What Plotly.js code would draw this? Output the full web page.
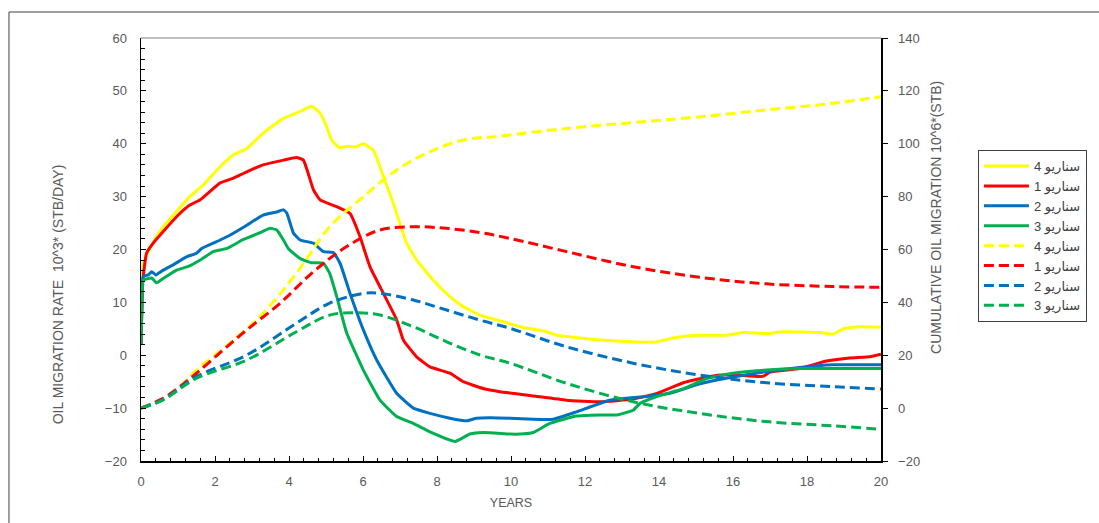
<!DOCTYPE html>
<html>
<head>
<meta charset="utf-8">
<script src="https://cdn.plot.ly/plotly-3.0.1.min.js"></script>
<style>html,body{margin:0;padding:0;background:#fff;}#chart{width:1099px;height:523px;}</style>
</head>
<body>
<div id="chart"></div>
<script>
// Legend labels
const labels = ["4 سناريو", "1 سناريو", "2 سناريو", "3 سناريو"];

// Oil migration rate (10^3 STB/DAY), left axis
const rate4X = [0, 0.02, 0.06, 0.3, 0.6, 1.0, 1.32, 1.68, 2.05, 2.5, 2.86, 3.3, 3.85, 4.3, 4.61, 4.84, 5.02, 5.15, 5.36, 5.6, 5.8, 6.01, 6.28, 6.55, 6.82, 7.18, 7.45, 7.9, 8.35, 8.71, 9.16, 9.7, 10.24, 10.96, 11.23, 12.4, 13.85, 14.48, 15.1, 15.83, 16.28, 16.9, 17.36, 18.35, 18.7, 18.98, 19.43, 20];
const rate4Y = [2, 12, 17.4, 21, 24.3, 27.5, 30, 32.2, 35.0, 37.9, 39.1, 42, 44.8, 46.1, 47.1, 45.8, 43.2, 40.7, 39.3, 39.5, 39.4, 40, 38.8, 33.8, 28.7, 21.2, 18, 14.2, 11.1, 9.2, 7.6, 6.5, 5.4, 4.45, 3.8, 2.9, 2.45, 3.4, 3.8, 3.8, 4.3, 4.1, 4.45, 4.3, 4.0, 5.0, 5.4, 5.3];

const rate1X = [0, 0.05, 0.15, 0.33, 0.6, 0.96, 1.32, 1.6, 2.14, 2.5, 2.86, 3.3, 3.85, 4.2, 4.39, 4.66, 4.84, 5.29, 5.65, 5.92, 6.19, 6.55, 6.91, 7.09, 7.45, 7.81, 8.35, 8.71, 9.25, 9.7, 10.6, 11.5, 12.4, 13.3, 13.94, 14.66, 15.47, 16.0, 16.8, 17.0, 17.8, 18.53, 19.16, 19.7, 20];
const rate1Y = [2, 14, 19.3, 21.2, 23.4, 26.2, 28.4, 29.4, 32.6, 33.5, 34.7, 36, 36.9, 37.4, 36.9, 31.3, 29.4, 28.1, 26.8, 22.4, 16.7, 11.7, 6.7, 2.9, -0.3, -2.2, -3.4, -5.0, -6.3, -6.9, -7.7, -8.5, -8.8, -8.3, -7.2, -5.2, -3.9, -3.7, -4.0, -3.2, -2.5, -1.1, -0.5, -0.3, 0.2];

const rate2X = [0, 0.03, 0.06, 0.2, 0.29, 0.4, 0.6, 0.87, 1.23, 1.5, 1.64, 2.14, 2.4, 2.86, 3.3, 3.67, 3.85, 3.94, 4.12, 4.3, 4.66, 4.93, 5.2, 5.38, 5.65, 6.01, 6.37, 6.91, 7.36, 7.81, 8.35, 8.8, 9.07, 9.43, 9.97, 10.6, 11.14, 11.77, 12.67, 13.67, 14.3, 15.1, 16.0, 16.9, 17.8, 18.7, 20];
const rate2Y = [2, 12, 14.9, 15.2, 15.8, 15.2, 16.1, 17.1, 18.6, 19.3, 20.2, 21.8, 22.7, 24.6, 26.5, 27.1, 27.5, 26.9, 23.1, 21.8, 21.2, 19.6, 19.4, 17.4, 11.7, 4.8, -0.9, -7.2, -10.0, -11.0, -11.9, -12.4, -11.9, -11.8, -11.9, -12.1, -12.1, -10.7, -8.5, -7.8, -7.2, -5.4, -4.1, -3.1, -2.3, -1.8, -1.8];

const rate3X = [0, 0.03, 0.06, 0.29, 0.42, 0.6, 0.96, 1.28, 1.6, 1.95, 2.32, 2.77, 3.22, 3.49, 3.67, 3.85, 3.98, 4.3, 4.61, 4.93, 5.1, 5.29, 5.56, 6.01, 6.46, 6.91, 7.36, 7.81, 8.49, 8.89, 9.25, 9.97, 10.24, 10.6, 11.05, 11.77, 12.4, 12.86, 13.3, 13.49, 13.94, 14.66, 15.29, 16.0, 16.9, 17.8, 18.7, 20];
const rate3Y = [2, 10, 14.2, 14.6, 13.7, 14.5, 16.1, 16.8, 18, 19.6, 20.2, 21.9, 23.2, 24, 23.7, 21.8, 20.2, 18.3, 17.5, 17.4, 15.5, 11.1, 4.2, -2.8, -8.5, -11.6, -12.9, -14.5, -16.3, -14.9, -14.6, -14.9, -14.9, -14.6, -12.9, -11.5, -11.3, -11.3, -10.4, -9.1, -7.8, -6.3, -4.4, -3.4, -2.8, -2.5, -2.5, -2.5];

// Cumulative oil migration (10^6 STB), right axis
const cum4X = [0, 0.6, 1.05, 1.5, 2.4, 3.3, 4.2, 5.1, 6.01, 6.91, 7.81, 8.71, 9.7, 11.5, 13.3, 15.1, 16.9, 18.7, 20];
const cum4Y = [0, 3.7, 8.1, 14.4, 24.5, 35.9, 51, 68.6, 80, 90.1, 97, 101.4, 102.9, 105.8, 108, 110.2, 112.8, 115.3, 117.8];

const cum1X = [0, 0.6, 1.05, 1.5, 2.22, 2.86, 3.76, 4.66, 5.56, 6.46, 7.36, 8.26, 9.16, 9.97, 11.5, 13.3, 15.1, 16.9, 18.7, 20];
const cum1Y = [0, 3.7, 8.1, 13.2, 22, 29.6, 39.7, 51.6, 61.1, 67.4, 68.6, 68, 66.4, 64.2, 59.2, 53.5, 49.5, 47, 46, 45.7];

const cum2X = [0, 0.6, 1.5, 2.86, 4.2, 5.1, 6.01, 6.46, 7.36, 8.26, 9.16, 9.97, 11.5, 13.3, 15.1, 16.9, 18.7, 20];
const cum2Y = [0, 3.3, 11.9, 20.1, 32.1, 39.7, 43.4, 43.4, 40.9, 37.1, 33.3, 30.2, 23.2, 17, 12.5, 9.6, 8.1, 7.2];

const cum3X = [0, 0.6, 1.5, 2.86, 4.2, 5.1, 5.83, 6.46, 7.36, 8.26, 9.16, 9.97, 11.5, 13.3, 15.1, 16.9, 18.7, 20];
const cum3Y = [0, 3.1, 11.3, 18.2, 28.9, 35.2, 36.1, 35.2, 30.8, 25.1, 20.1, 17, 9.4, 2.4, -2, -5.1, -6.7, -8];

const colors = ["#FFFF00", "#FF0000", "#0070C0", "#00B050"];

const solid = [[rate4X, rate4Y], [rate1X, rate1Y], [rate2X, rate2Y], [rate3X, rate3Y]];
const dashed = [[cum4X, cum4Y], [cum1X, cum1Y], [cum2X, cum2Y], [cum3X, cum3Y]];

const traces = [];
solid.forEach((s, i) => traces.push({
  x: s[0], y: s[1], type: "scatter", mode: "lines", name: labels[i],
  line: {color: colors[i], width: 3, shape: "spline", smoothing: 0.4}, yaxis: "y"
}));
dashed.forEach((s, i) => traces.push({
  x: s[0], y: s[1], type: "scatter", mode: "lines", name: labels[i],
  line: {color: colors[i], width: 3, dash: "10px,5px", shape: "spline", smoothing: 1}, yaxis: "y2"
}));

const FAM = "Liberation Sans, DejaVu Sans, sans-serif";
const tickFont = {family: FAM, size: 13, color: "#595959"};
const titleFont = {family: FAM, size: 14, color: "#595959"};
const xTitleFont = {family: FAM, size: 12.5, color: "#595959"};

const layout = {
  width: 1099, height: 523,
  margin: {l: 141, r: 218, t: 38, b: 62},
  paper_bgcolor: "#ffffff", plot_bgcolor: "#ffffff",
  showlegend: true,
  font: tickFont,
  xaxis: {
    range: [0, 20], dtick: 2, tick0: 0, showgrid: false, zeroline: false,
    showline: true, linecolor: "#000000", linewidth: 1.5,
    ticks: "inside", ticklen: 5, tickcolor: "#000000", tickwidth: 1,
    minor: {dtick: 0.4, ticks: "inside", ticklen: 3, tickcolor: "#000000"},
    tickfont: tickFont, ticklabelstandoff: 8,
    title: {text: "YEARS", font: xTitleFont, standoff: 10}
  },
  yaxis: {
    range: [-20, 60], dtick: 10, tick0: 0, showgrid: false, zeroline: false,
    showline: true, linecolor: "#000000", linewidth: 1.5,
    ticks: "inside", ticklen: 5, tickcolor: "#000000",
    minor: {dtick: 2, ticks: "inside", ticklen: 4, tickcolor: "#000000"},
    tickfont: tickFont, ticklabelstandoff: 10
  },
  yaxis2: {
    range: [-20, 140], dtick: 20, tick0: 0, overlaying: "y", side: "right",
    showgrid: false, zeroline: false,
    showline: true, linecolor: "#000000", linewidth: 1.5,
    ticks: "outside", ticklen: 5, tickcolor: "#000000",
    tickfont: tickFont, ticklabelstandoff: 8
  },
  legend: {
    x: 1.131, y: 0.735, xanchor: "left", yanchor: "top",
    bordercolor: "#404040", borderwidth: 1, bgcolor: "#ffffff",
    font: {family: FAM, size: 13, color: "#404040"},
    itemwidth: 45, tracegroupgap: 0
  },
  shapes: [
    {type: "line", xref: "paper", yref: "paper", x0: 0, x1: 1, y0: 1, y1: 1,
     line: {color: "#7f7f7f", width: 1}},
    {type: "rect", xref: "paper", yref: "paper", x0: -0.1784, x1: 1.31, y0: -0.17, y1: 1.0615,
     line: {color: "#404040", width: 1}, fillcolor: "rgba(0,0,0,0)"}
  ],
  annotations: [
    {text: "OIL MIGRATION RATE  10^3* (STB/DAY)", xref: "paper", yref: "paper",
     x: -0.1122, y: 0.394, textangle: -90, showarrow: false, font: titleFont,
     xanchor: "center", yanchor: "middle"},
    {text: "CUMULATIVE OIL MIGRATION 10^6*(STB)", xref: "paper", yref: "paper",
     x: 1.0743, y: 0.577, textangle: -90, showarrow: false, font: titleFont,
     xanchor: "center", yanchor: "middle"}
  ]
};

Plotly.newPlot("chart", traces, layout, {displayModeBar: false, staticPlot: true});
</script>
</body>
</html>
